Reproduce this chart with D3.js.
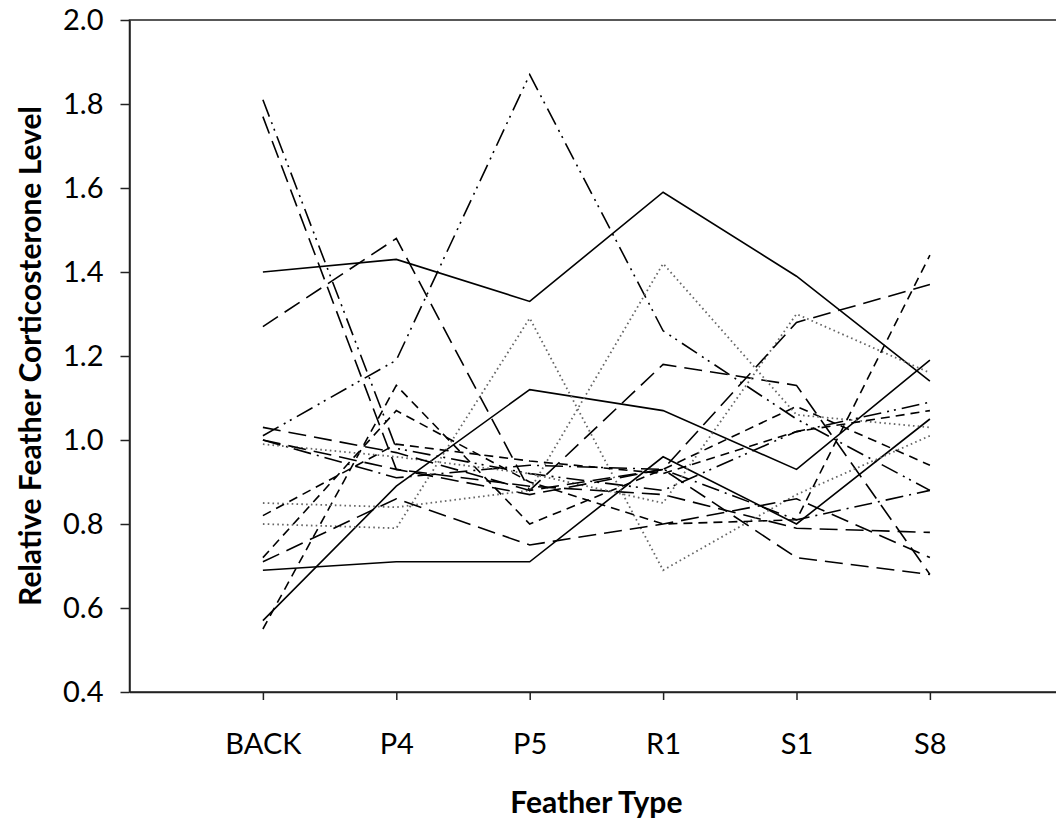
<!DOCTYPE html>
<html>
<head>
<meta charset="utf-8">
<script src="https://cdn.jsdelivr.net/npm/d3@7"></script>
<style>
  body { margin: 0; background: #fff; }
  text { font-family: Lato, "Open Sans", sans-serif; fill: #000; }
</style>
</head>
<body>
<script>
let categories = ["BACK", "P4", "P5", "R1", "S1", "S8"]
let yTicks = [0.4, 0.6, 0.8, 1.0, 1.2, 1.4, 1.6, 1.8, 2.0]

// one array per bird, values in category order
let birdA = [1.40, 1.43, 1.33, 1.59, 1.39, 1.14]
let birdB = [0.57, 0.89, 1.12, 1.07, 0.93, 1.19]
let birdC = [0.69, 0.71, 0.71, 0.96, 0.80, 1.05]
let birdD = [1.00, 0.91, 0.94, 0.93, 0.81, 0.88]
let birdF = [1.27, 1.48, 0.88, 1.18, 1.13, 0.68]
let birdG = [1.01, 1.19, 1.87, 1.26, 1.05, 0.88]
let birdH = [1.77, 0.93, 0.89, 0.87, 0.79, 0.78]
let birdI = [1.81, 0.98, 0.92, 0.88, 1.02, 1.09]
let birdJ = [0.55, 1.13, 0.80, 0.93, 1.08, 0.94]
let birdK = [0.80, 0.79, 1.29, 0.69, 0.87, 1.01]
let birdL = [0.85, 0.84, 0.88, 1.42, 1.06, 1.03]
let birdM = [0.99, 0.96, 0.92, 0.85, 1.30, 1.16]
let birdN = [0.82, 0.99, 0.95, 0.92, 1.02, 1.07]
let birdO = [0.72, 1.07, 0.90, 0.80, 0.81, 1.44]
let birdP = [0.71, 0.86, 0.75, 0.80, 0.86, 0.72]
let birdQ = [1.03, 0.97, 0.88, 0.93, 0.72, 0.68]
let birdR = [1.00, 0.93, 0.87, 0.93, 1.28, 1.37]

let dashes = {
    solid: null,
    dash: "9,6",
    longDash: "18,8",
    longDashDot: "18,6,2,6",
    longDashDotDot: "18,6,2,5,2,6",
    dot: "1.6,3.2"
}

let series = [
    {values: birdA, style: "solid"},
    {values: birdB, style: "solid"},
    {values: birdC, style: "solid"},
    {values: birdD, style: "longDashDot"},
    {values: birdF, style: "longDash"},
    {values: birdG, style: "longDashDotDot"},
    {values: birdH, style: "longDash"},
    {values: birdI, style: "longDashDotDot"},
    {values: birdJ, style: "dash"},
    {values: birdK, style: "dot"},
    {values: birdL, style: "dot"},
    {values: birdM, style: "dot"},
    {values: birdN, style: "dash"},
    {values: birdO, style: "dash"},
    {values: birdP, style: "longDash"},
    {values: birdQ, style: "longDash"},
    {values: birdR, style: "longDash"}
]

let width = 1056, height = 819
let plotLeft = 129.5, plotTop = 20, plotBottom = 692
let step = 133.4

let svg = d3.select("body")
    .append("svg")
    .attr("width", width)
    .attr("height", height)

let x = d3.scaleLinear().domain([0, 7]).range([plotLeft, plotLeft + 7 * step])
let y = d3.scaleLinear().domain([0.4, 2.0]).range([plotBottom, plotTop])

// plot box
svg.append("rect")
    .attr("x", plotLeft).attr("y", plotTop)
    .attr("width", 7 * step).attr("height", plotBottom - plotTop)
    .attr("fill", "none")
    .attr("stroke", "#222")
    .attr("stroke-width", 1.5)

let yAxis = svg.append("g")
    .attr("transform", `translate(${plotLeft},0)`)
    .call(d3.axisLeft(y).tickValues(yTicks).tickFormat(d3.format(".1f"))
        .tickSize(9).tickPadding(17).tickSizeOuter(0))
yAxis.selectAll("path, line").attr("stroke", "#222").attr("stroke-width", 1.5)
yAxis.selectAll("text").style("font-size", "29px").style("font-family", "Lato")

let xAxis = svg.append("g")
    .attr("transform", `translate(0,${plotBottom})`)
    .call(d3.axisBottom(x).tickValues(d3.range(1, 7)).tickFormat(i => categories[i - 1])
        .tickSize(8).tickSizeOuter(0))
xAxis.selectAll("path, line").attr("stroke", "#222").attr("stroke-width", 1.5)
xAxis.selectAll("text")
    .attr("y", 62).attr("dy", null)
    .style("font-size", "29px").style("font-family", "Lato")

let line = d3.line()
    .x((d, i) => x(i + 1))
    .y(d => y(d))

svg.append("g").selectAll("path")
    .data(series)
    .enter()
    .append("path")
    .attr("d", d => line(d.values))
    .attr("fill", "none")
    .attr("stroke", d => d.style == "dot" ? "#666" : "#000")
    .attr("stroke-width", d => d.style == "dot" ? 1.8 : 1.6)
    .attr("stroke-dasharray", d => dashes[d.style])

svg.append("text")
    .attr("x", plotLeft + 3.5 * step)
    .attr("y", 813)
    .attr("text-anchor", "middle")
    .style("font-size", "30px")
    .style("font-weight", "bold")
    .text("Feather Type")

svg.append("text")
    .attr("transform", `translate(41,${(plotTop + plotBottom) / 2}) rotate(-90)`)
    .attr("text-anchor", "middle")
    .style("font-size", "30px")
    .style("font-weight", "bold")
    .text("Relative Feather Corticosterone Level")
</script>
</body>
</html>
